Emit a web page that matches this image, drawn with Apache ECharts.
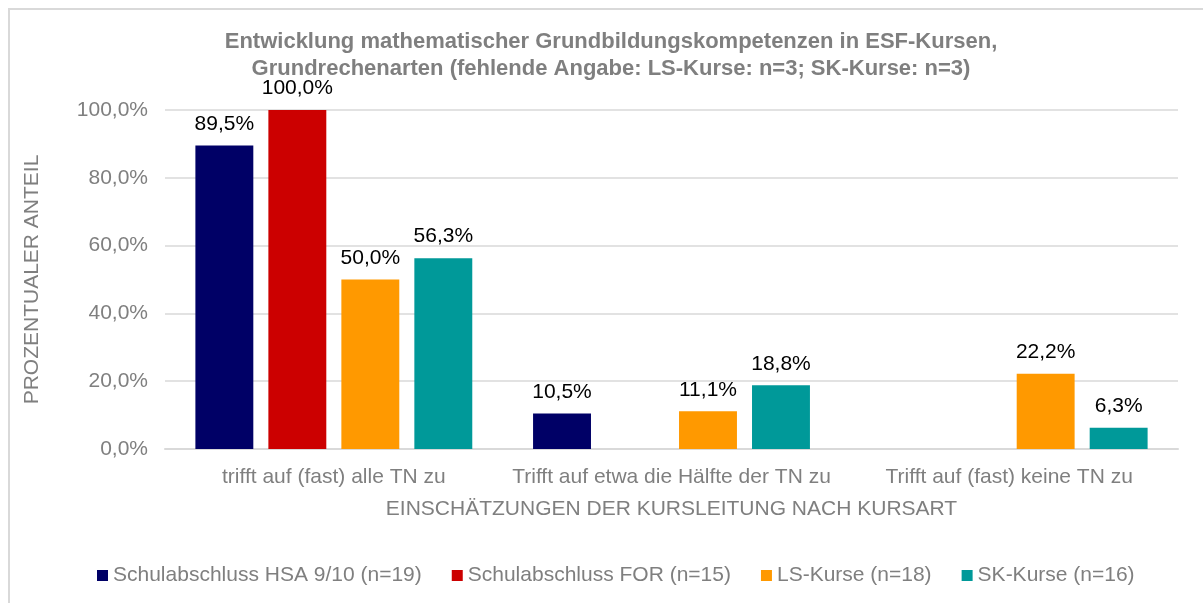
<!DOCTYPE html>
<html>
<head>
<meta charset="utf-8">
<title>Grundrechenarten</title>
<script src="https://cdn.jsdelivr.net/npm/echarts@6/dist/echarts.min.js"></script>
<style>
  html, body { margin: 0; padding: 0; background: #fff; overflow: hidden; }
  .frame {
    position: absolute; left: 8px; top: 8px;
    width: 1300px; height: 700px;
    border: 2px solid #d9d9d9;
  }
  #chart { position: absolute; left: 0; top: 0; width: 1203px; height: 603px; }
</style>
</head>
<body>
<div class="frame"></div>
<div id="chart"></div>
<script>
  // categories and series values (percent)
  const categories = ['trifft auf (fast) alle TN zu', 'Trifft auf etwa die Hälfte der TN zu', 'Trifft auf (fast) keine TN zu']
  const seriesNames = ['Schulabschluss HSA 9/10 (n=19)', 'Schulabschluss FOR (n=15)', 'LS-Kurse (n=18)', 'SK-Kurse (n=16)']
  const hsaValues = [89.5, 10.5, 0]
  const forValues = [100.0, 0, 0]
  const lsValues = [50.0, 11.1, 22.2]
  const skValues = [56.3, 18.8, 6.3]
  const yTicks = [0, 20, 40, 60, 80, 100]

  const colors = ['#000066', '#cc0000', '#ff9900', '#009999']
  const grey = '#7f7f7f'
  const font = 'Liberation Sans, Arial, sans-serif'

  const fmt = (v) => v.toFixed(1).replace('.', ',') + '%'

  const makeSeries = (name, data, color) => ({
    name: name,
    type: 'bar',
    data: data,
    barGap: '26%',
    barCategoryGap: '18%',
    itemStyle: { color: color },
    label: {
      show: true,
      position: 'top',
      distance: 11,
      color: '#000',
      fontSize: 21,
      fontFamily: font,
      formatter: (p) => (p.value ? fmt(p.value) : '')
    }
  })

  const chart = echarts.init(document.getElementById('chart'))
  chart.setOption({
    animation: false,
    textStyle: { fontFamily: font },
    title: {
      text: 'Entwicklung mathematischer Grundbildungskompetenzen in ESF-Kursen,\nGrundrechenarten (fehlende Angabe: LS-Kurse: n=3; SK-Kurse: n=3)',
      left: 606,
      top: 23,
      textAlign: 'center',
      textStyle: { color: grey, fontSize: 22, fontWeight: 'bold', lineHeight: 27, fontFamily: font }
    },
    legend: {
      data: seriesNames,
      left: 92,
      top: 560,
      icon: 'rect',
      itemWidth: 11,
      itemHeight: 11,
      itemGap: 30,
      textStyle: { color: grey, fontSize: 21, fontFamily: font }
    },
    grid: { left: 165, right: 25, top: 110, bottom: 154 },
    xAxis: {
      type: 'category',
      data: categories,
      name: 'EINSCHÄTZUNGEN DER KURSLEITUNG NACH KURSART',
      nameLocation: 'middle',
      nameGap: 50,
      nameTextStyle: { color: grey, fontSize: 21, fontFamily: font },
      axisLine: { lineStyle: { color: '#d9d9d9', width: 2 } },
      axisTick: { show: false },
      axisLabel: { color: grey, fontSize: 21, margin: 18, interval: 0, fontFamily: font }
    },
    yAxis: {
      type: 'value',
      min: yTicks[0],
      max: yTicks[yTicks.length - 1],
      interval: 20,
      name: 'PROZENTUALER ANTEIL',
      nameLocation: 'middle',
      nameGap: 122,
      nameTextStyle: { color: grey, fontSize: 21, fontFamily: font },
      axisLine: { show: false },
      axisTick: { show: false },
      axisLabel: { color: grey, fontSize: 21, margin: 17, fontFamily: font, formatter: (v) => fmt(v) },
      splitLine: { lineStyle: { color: '#d9d9d9', width: 1.5 } }
    },
    series: [
      makeSeries(seriesNames[0], hsaValues, colors[0]),
      makeSeries(seriesNames[1], forValues, colors[1]),
      makeSeries(seriesNames[2], lsValues, colors[2]),
      makeSeries(seriesNames[3], skValues, colors[3])
    ]
  })
</script>
</body>
</html>
